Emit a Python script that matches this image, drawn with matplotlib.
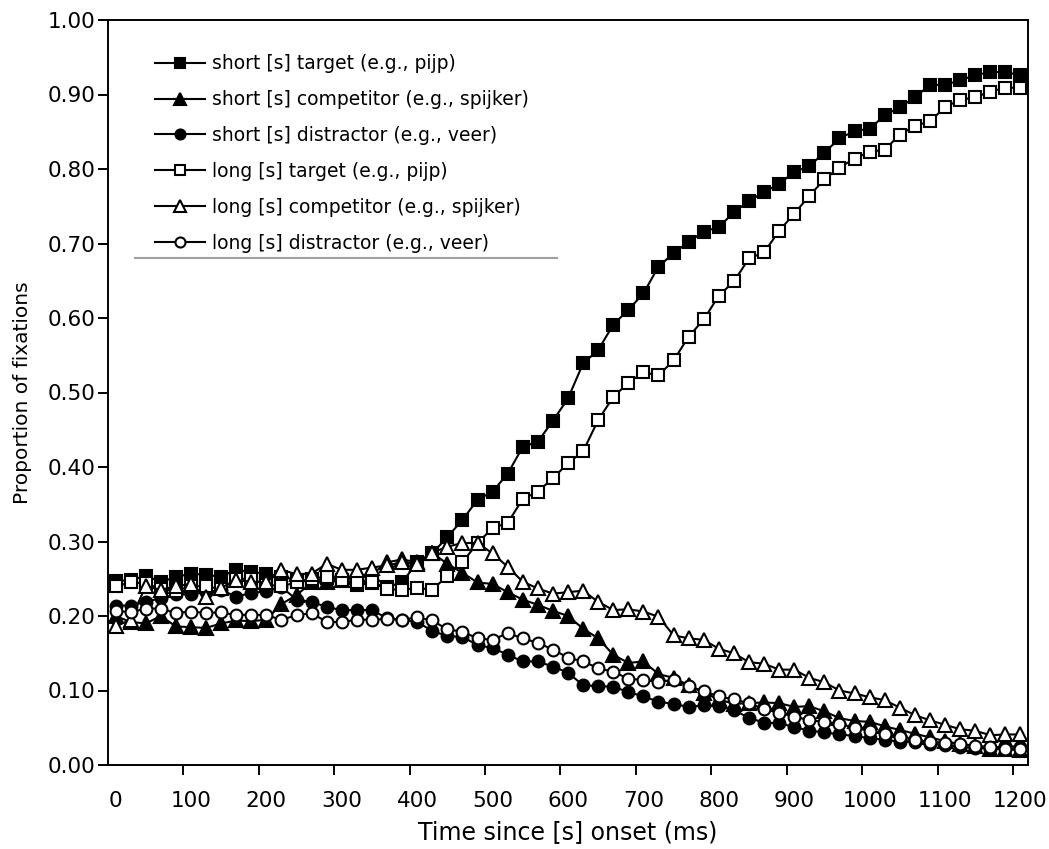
import matplotlib
matplotlib.use('Agg')
import matplotlib.pyplot as plt
import numpy as np

# time bins (ms), one category every 20 ms
times = list(range(0, 1201, 20))
tick_labels = [str(t) for t in range(0, 1201, 100)]

# proportion of fixations per series
short_target = [0.247, 0.248, 0.254, 0.246, 0.252, 0.257, 0.255, 0.253, 0.262, 0.259,
                0.257, 0.253, 0.248, 0.246, 0.251, 0.248, 0.242, 0.244, 0.239, 0.245,
                0.272, 0.284, 0.306, 0.329, 0.356, 0.367, 0.391, 0.427, 0.434, 0.462,
                0.492, 0.539, 0.557, 0.591, 0.611, 0.633, 0.669, 0.687, 0.702, 0.716,
                0.722, 0.742, 0.757, 0.769, 0.780, 0.796, 0.804, 0.822, 0.841, 0.851,
                0.854, 0.872, 0.883, 0.896, 0.913, 0.913, 0.919, 0.926, 0.930, 0.930,
                0.926]
short_competitor = [0.200, 0.192, 0.190, 0.200, 0.186, 0.185, 0.184, 0.190, 0.194, 0.193,
                    0.195, 0.216, 0.228, 0.245, 0.245, 0.248, 0.252, 0.256, 0.272, 0.276,
                    0.272, 0.285, 0.270, 0.258, 0.245, 0.243, 0.232, 0.222, 0.215, 0.207,
                    0.200, 0.183, 0.170, 0.148, 0.137, 0.139, 0.122, 0.117, 0.107, 0.097,
                    0.088, 0.082, 0.083, 0.084, 0.083, 0.078, 0.079, 0.072, 0.063, 0.059,
                    0.058, 0.052, 0.047, 0.042, 0.037, 0.032, 0.028, 0.025, 0.022, 0.021,
                    0.020]
short_distractor = [0.214, 0.214, 0.219, 0.224, 0.229, 0.229, 0.232, 0.235, 0.226, 0.231,
                    0.233, 0.239, 0.222, 0.219, 0.212, 0.208, 0.208, 0.208, 0.197, 0.195,
                    0.192, 0.180, 0.173, 0.172, 0.161, 0.157, 0.148, 0.139, 0.139, 0.132,
                    0.124, 0.107, 0.106, 0.105, 0.098, 0.092, 0.085, 0.082, 0.078, 0.080,
                    0.079, 0.074, 0.063, 0.057, 0.056, 0.051, 0.046, 0.044, 0.041, 0.039,
                    0.036, 0.034, 0.031, 0.031, 0.028, 0.027, 0.024, 0.023, 0.022, 0.026,
                    0.024]
long_target = [0.240, 0.245, 0.244, 0.236, 0.234, 0.240, 0.240, 0.236, 0.250, 0.250,
               0.242, 0.240, 0.245, 0.250, 0.253, 0.248, 0.245, 0.245, 0.236, 0.235,
               0.238, 0.235, 0.254, 0.272, 0.298, 0.318, 0.325, 0.357, 0.367, 0.385,
               0.405, 0.421, 0.463, 0.494, 0.513, 0.527, 0.523, 0.543, 0.575, 0.598,
               0.630, 0.649, 0.680, 0.688, 0.717, 0.740, 0.764, 0.786, 0.802, 0.814,
               0.823, 0.826, 0.846, 0.858, 0.864, 0.883, 0.893, 0.896, 0.904, 0.909,
               0.909]
long_competitor = [0.186, 0.195, 0.240, 0.235, 0.240, 0.243, 0.226, 0.238, 0.248, 0.246,
                   0.245, 0.262, 0.256, 0.257, 0.270, 0.262, 0.262, 0.265, 0.268, 0.272,
                   0.270, 0.285, 0.293, 0.298, 0.298, 0.284, 0.266, 0.246, 0.237, 0.230,
                   0.232, 0.234, 0.219, 0.208, 0.209, 0.206, 0.199, 0.174, 0.170, 0.168,
                   0.156, 0.150, 0.138, 0.136, 0.128, 0.128, 0.117, 0.111, 0.100, 0.096,
                   0.091, 0.087, 0.077, 0.067, 0.060, 0.054, 0.048, 0.046, 0.040, 0.041,
                   0.041]
long_distractor = [0.207, 0.205, 0.210, 0.210, 0.204, 0.206, 0.204, 0.205, 0.201, 0.202,
                   0.201, 0.195, 0.201, 0.204, 0.192, 0.192, 0.195, 0.195, 0.196, 0.195,
                   0.198, 0.194, 0.182, 0.179, 0.170, 0.168, 0.177, 0.170, 0.164, 0.155,
                   0.144, 0.139, 0.130, 0.125, 0.116, 0.114, 0.112, 0.114, 0.106, 0.099,
                   0.092, 0.088, 0.083, 0.075, 0.070, 0.065, 0.060, 0.058, 0.055, 0.050,
                   0.046, 0.042, 0.038, 0.034, 0.031, 0.030, 0.028, 0.026, 0.024, 0.022,
                   0.022]

labels = ['short [s] target (e.g., pijp)',
          'short [s] competitor (e.g., spijker)',
          'short [s] distractor (e.g., veer)',
          'long [s] target (e.g., pijp)',
          'long [s] competitor (e.g., spijker)',
          'long [s] distractor (e.g., veer)']

plt.rcParams['font.family'] = ['DejaVu Sans']

fig = plt.figure(figsize=(10.49, 8.49), dpi=100)
ax = fig.add_axes([108 / 1049, 1 - 765 / 849, 920 / 1049, 745 / 849])

series = [short_target, short_competitor, short_distractor,
          long_target, long_competitor, long_distractor]
markers = ['s', '^', 'o', 's', '^', 'o']
fills = ['black', 'black', 'black', 'white', 'white', 'white']
sizes = [8.5, 9.5, 8.5, 8.5, 9.5, 8.5]

for vals, m, fc, ms, lab in zip(series, markers, fills, sizes, labels):
    ax.plot(times, vals, color='black', lw=1.5, marker=m, markersize=ms,
            markerfacecolor=fc, markeredgecolor='black', markeredgewidth=1.5,
            label=lab)

ax.set_xlim(-10, 1210)
ax.set_ylim(0, 1.0)

# labels sit on the categories, tick marks sit between categories (Excel style)
ax.set_xticks(range(0, 1201, 100))
ax.set_xticklabels(tick_labels)
ax.tick_params(axis='x', which='major', length=0, pad=19, labelsize=15.5)
ax.set_xticks(range(90, 1200, 100), minor=True)
ax.tick_params(axis='x', which='minor', length=7, width=1.4, direction='out')

ax.set_yticks(np.arange(0, 1.01, 0.1))
ax.set_yticklabels(['%.2f' % v for v in np.arange(0, 1.01, 0.1)])
ax.tick_params(axis='y', length=7, width=1.4, direction='out', labelsize=15.5, pad=2)

for sp in ax.spines.values():
    sp.set_linewidth(1.4)

ax.set_xlabel('Time since [s] onset (ms)', fontsize=17, labelpad=6)
ax.set_ylabel('Proportion of fixations', fontsize=14.5, labelpad=11)

leg = ax.legend(loc='upper left', bbox_to_anchor=(0.051, 0.954), frameon=False,
                fontsize=13.5, handlelength=2.67, handletextpad=0.37,
                labelspacing=0.9, borderpad=0, borderaxespad=0, markerscale=0.85)

# thin grey rule left under the legend
ax.plot([0.029, 0.488], [0.6805, 0.6805], transform=ax.transAxes,
        color='#a0a0a0', lw=1.5, clip_on=False)

fig.savefig('out.png', dpi=100)
